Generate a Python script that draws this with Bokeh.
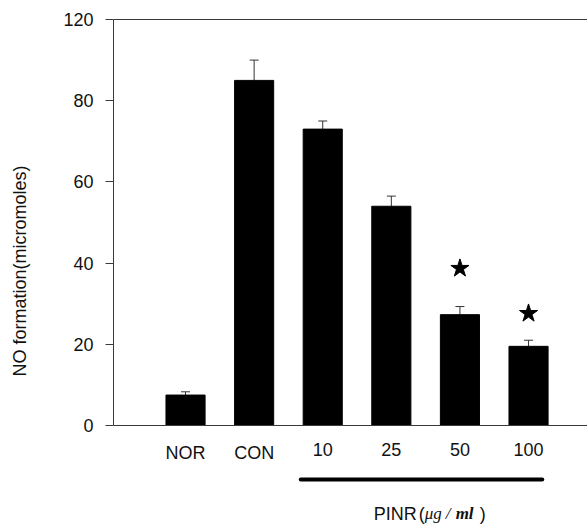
from bokeh.plotting import figure
from bokeh.models import Range1d, FixedTicker, Span, Whisker, TeeHead, ColumnDataSource
from bokeh.embed import file_html
from bokeh.resources import INLINE
from bokeh.core.properties import value

# ---- data ----
categories = ["NOR", "CON", "10", "25", "50", "100"]
means = [7.5, 85.0, 73.0, 54.0, 27.3, 19.5]
errors = [0.8, 5.0, 2.0, 2.5, 2.0, 1.5]
star_levels = [None, None, None, None, 38.7, 27.6]   # "*" marks (significance)
pinr_group = ["10", "25", "50", "100"]
y_ticks = [0, 20, 40, 60, 80, 100]
y_tick_labels = ["0", "20", "40", "60", "80", "120"]
y_label = "NO formation(micromoles)"
# group label "PINR(μg/ml)" split in pieces to mimic the mixed fonts
group_label_parts = ["PINR", "(", "μg", "/", "ml", ")"]

# ---- layout ----
W, H = 587, 526
FRAME_TOP = 15
AXIS_TOP_PX = 19      # pixel of y=100
AXIS_ZERO_PX = 425    # pixel of y=0
ppu = (AXIS_ZERO_PX - AXIS_TOP_PX) / 100.0
y_end = 100 + (AXIS_TOP_PX - FRAME_TOP) / ppu
y_start = -(H - AXIS_ZERO_PX) / ppu
LEFT = 113
x_step_px = 68.6
x_start = -0.05
x_end = x_start + (W - LEFT) / x_step_px

FONT = value("Liberation Sans")
AX_COLOR = "#3a3a3a"

xs = list(range(1, len(categories) + 1))

p = figure(width=W, height=H, x_range=Range1d(x_start, x_end), y_range=Range1d(y_start, y_end),
           output_backend="svg", toolbar_location=None, x_axis_location=None,
           min_border_left=LEFT, min_border_right=0, min_border_top=FRAME_TOP, min_border_bottom=0)
p.grid.visible = False
p.outline_line_color = None
p.background_fill_color = "white"
p.border_fill_color = "white"

ya = p.yaxis[0]
ya.ticker = FixedTicker(ticks=y_ticks)
ya.major_label_overrides = {t: l for t, l in zip(y_ticks, y_tick_labels)}
ya.bounds = (y_ticks[0], y_ticks[-1])
ya.minor_tick_line_color = None
ya.major_tick_out = 8
ya.major_tick_in = 0
ya.major_label_standoff = 12
ya.axis_line_color = AX_COLOR
ya.major_tick_line_color = AX_COLOR
ya.major_label_text_font = "Liberation Sans"
ya.major_label_text_font_size = "18px"
ya.major_label_text_color = "#111111"
ya.axis_label = y_label
ya.axis_label_text_font = "Liberation Sans"
ya.axis_label_text_font_size = "18px"
ya.axis_label_text_font_style = "normal"
ya.axis_label_text_color = "#111111"
ya.axis_label_standoff = 30

p.add_layout(Span(location=0, dimension="width", line_color=AX_COLOR, line_width=1))
p.add_layout(Span(location=y_ticks[-1], dimension="width", line_color=AX_COLOR, line_width=1))

p.vbar(x=xs, top=means, bottom=0, width=0.57, fill_color="black", line_color="black")

src = ColumnDataSource(dict(x=xs, lower=means, upper=[m + e for m, e in zip(means, errors)]))
p.add_layout(Whisker(source=src, base="x", lower="lower", upper="upper", dimension="height",
                     line_color="#333333", line_width=1, lower_head=None,
                     upper_head=TeeHead(size=9, line_color="#333333", line_width=1)))

p.text(x=xs, y=[0] * len(xs), text=categories, text_align="center", text_baseline="top",
       y_offset=17, text_font=FONT, text_font_size="18px", text_color="#111111")

# significance marks
sx = [x for x, s in zip(xs, star_levels) if s is not None]
sy = [s for s in star_levels if s is not None]
p.scatter(x=sx, y=sy, marker="star", size=19, fill_color="black", line_color="black")

# PINR bracket line and label
gx = [xs[categories.index(c)] for c in pinr_group]
line_y = -54 / ppu
p.segment(x0=[gx[0] - 0.32], x1=[gx[-1] + 0.2], y0=[line_y], y1=[line_y],
          line_width=4, line_color="black", line_cap="round")
gcenter = sum(gx) / len(gx)
label_src = ColumnDataSource(dict(
    x=[gcenter] * len(group_label_parts),
    y=[0] * len(group_label_parts),
    text=group_label_parts,
    font=["Liberation Sans", "Liberation Sans", "Liberation Serif", "Liberation Serif",
          "Liberation Serif", "Liberation Sans"],
    style=["normal", "normal", "italic", "italic", "bold italic", "normal"],
    size=["18px", "18px", "17px", "17px", "17px", "18px"],
    xoff=[-52, -7, -1, 20, 30, 54],
))
p.text(x="x", y="y", text="text", source=label_src, text_font="font", text_font_style="style",
       text_font_size="size", x_offset="xoff", y_offset=88, text_align="left",
       text_baseline="middle", text_color="#111111")

open("out.html", "w").write(file_html(p, INLINE))
